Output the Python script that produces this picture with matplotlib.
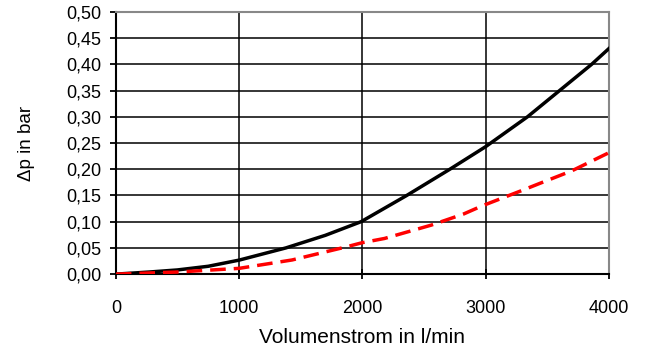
import matplotlib.pyplot as plt
from matplotlib.ticker import FuncFormatter

# Druckverlust ueber Volumenstrom (l/min -> bar)
q_schwarz = [0, 270, 500, 750, 1000, 1380, 1700, 1990, 2360, 2710, 3000, 3340, 3600, 3860, 4000]
dp_schwarz = [0.0, 0.004, 0.008, 0.015, 0.0267, 0.05, 0.074, 0.10, 0.15, 0.20, 0.243, 0.30, 0.35, 0.40, 0.43]

q_rot = [0, 500, 1000, 1430, 1870, 2000, 2180, 2560, 2820, 2970, 3300, 3450, 3700, 4000]
dp_rot = [0.0, 0.004, 0.011, 0.027, 0.052, 0.06, 0.068, 0.0935, 0.1145, 0.13, 0.16, 0.174, 0.197, 0.2315]

x_ticks = [0, 1000, 2000, 3000, 4000]
y_ticks = [i * 0.05 for i in range(11)]

plt.rcParams['font.family'] = ['Liberation Sans', 'DejaVu Sans']

fig = plt.figure(figsize=(6.47, 3.51), dpi=100)
ax = fig.add_axes([0.179, 0.219, 0.762, 0.747])

ax.plot(q_schwarz, dp_schwarz, color='black', lw=2.5, zorder=3)
ax.plot(q_rot, dp_rot, color='#ff0000', lw=2.5, dashes=(4.5, 2.3), zorder=3)

ax.set_xlim(0, 4000)
ax.set_ylim(0, 0.5)
ax.set_xticks(x_ticks)
ax.set_yticks(y_ticks)
ax.yaxis.set_major_formatter(FuncFormatter(lambda v, p: f"{v:.2f}".replace('.', ',')))

ax.grid(True, color='black', lw=1.1)
ax.set_axisbelow(True)

ax.spines['left'].set_color('black')
ax.spines['left'].set_linewidth(1.5)
ax.spines['bottom'].set_color('black')
ax.spines['bottom'].set_linewidth(1.5)
ax.spines['top'].set_color('#888888')
ax.spines['right'].set_color('#888888')
ax.spines['top'].set_linewidth(1.5)
ax.spines['right'].set_linewidth(1.5)

ax.tick_params(axis='y', direction='out', length=4.5, width=1.3, pad=6, labelsize=13)
ax.tick_params(axis='x', direction='inout', length=7, width=1.3, pad=15, labelsize=13)

ax.set_xlabel('Volumenstrom in l/min', fontsize=15, labelpad=8)
ax.set_ylabel('\u0394p in bar', fontsize=13.5, labelpad=22)

fig.savefig('out.png', dpi=100)
